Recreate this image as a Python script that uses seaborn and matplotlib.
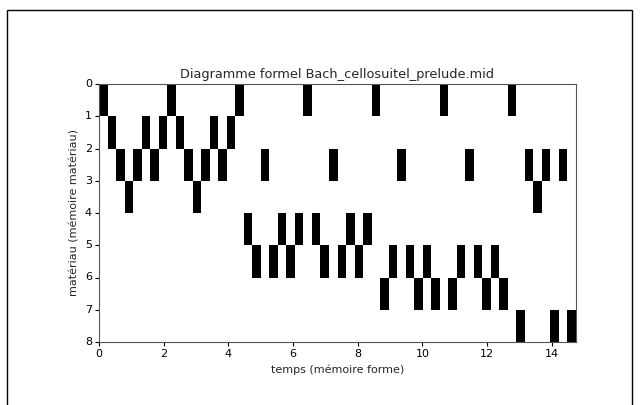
import numpy as np
import pandas as pd
import matplotlib
matplotlib.use("Agg")
import matplotlib.pyplot as plt
from matplotlib.colors import ListedColormap
from matplotlib.patches import Rectangle
import seaborn as sns

# material index played at each successive time step
materiau = [0, 1, 2, 3, 2, 1, 2, 1,
            0, 1, 2, 3, 2, 1, 2, 1,
            0, 4, 5, 2, 5, 4, 5, 4,
            0, 4, 5, 2, 5, 4, 5, 4,
            0, 6, 5, 2, 5, 6, 5, 6,
            0, 6, 5, 2, 5, 6, 5, 6,
            0, 7, 2, 3, 2, 7, 2, 7]
pas_temps = 0.2634          # duration of one step (time units)
n_materiaux = 8
xticks_temps = [0, 2, 4, 6, 8, 10, 12, 14]
yticks = [0, 1, 2, 3, 4, 5, 6, 7, 8]
titre = "Diagramme formel Bach_cellosuitel_prelude.mid"

n = len(materiau)
df = pd.DataFrame({"etape": np.arange(n), "materiau": materiau, "v": 1})
mat = (df.pivot_table(index="materiau", columns="etape", values="v", fill_value=0)
         .reindex(index=range(n_materiaux), columns=range(n), fill_value=0))

sns.set_style("white")
plt.rcParams["font.family"] = ["DejaVu Sans"]

fig = plt.figure(figsize=(6.4, 4.05), dpi=100)
ax = fig.add_axes([99/640, 1 - 342/405, (576 - 99)/640, (342 - 84)/405])
sns.heatmap(mat, cmap=ListedColormap(["white", "black"]), cbar=False, ax=ax,
            vmin=0, vmax=1)

ax.set_xlim(0, n)
ax.set_ylim(n_materiaux, 0)
ax.set_xticks([t / pas_temps for t in xticks_temps])
ax.set_xticklabels([str(t) for t in xticks_temps], rotation=0, fontsize=8)
ax.set_yticks(yticks)
ax.set_yticklabels([str(v) for v in yticks], rotation=0, fontsize=8)
ax.tick_params(axis="both", which="both", length=3, width=0.8, direction="out",
               bottom=True, left=True, pad=2, colors="black")
for s in ax.spines.values():
    s.set_visible(True)
    s.set_color("#555555")
    s.set_linewidth(0.8)

ax.set_xlabel("temps (mémoire forme)", fontsize=8)
ax.set_ylabel("matériau (mémoire matériau)", fontsize=8)
ax.set_title(titre, fontsize=9.3, pad=4)

fig.patches.append(Rectangle((7/640, -0.1), (632 - 7)/640, 1.1 - 10/405,
                             transform=fig.transFigure, fill=False,
                             edgecolor="black", linewidth=1, clip_on=False))

fig.savefig("out.png", dpi=100)
